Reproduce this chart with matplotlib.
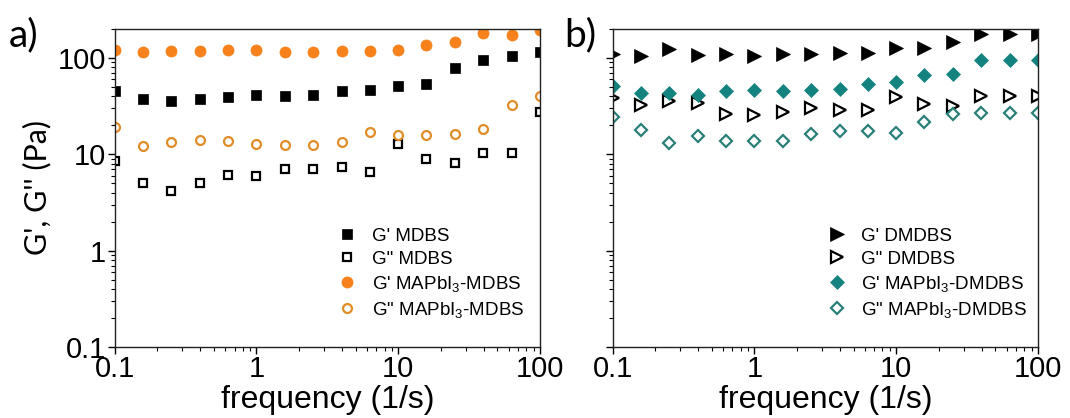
import matplotlib
matplotlib.use("Agg")
import matplotlib.pyplot as plt
from matplotlib.ticker import LogLocator, NullFormatter, FixedLocator, FixedFormatter

plt.rcParams['font.family'] = ['Liberation Sans', 'DejaVu Sans']
plt.rcParams['mathtext.fontset'] = 'custom'
plt.rcParams['mathtext.rm'] = 'Liberation Sans'
plt.rcParams['mathtext.default'] = 'regular'

# angular frequency sweep (1/s)
freq = [0.1, 0.158, 0.251, 0.398, 0.631, 1.0, 1.58, 2.51, 3.98, 6.31,
        10.0, 15.8, 25.1, 39.8, 63.1, 100.0]

# a) MDBS gels (Pa)
g1_mdbs = [45.9, 37.5, 35.5, 37.9, 39.4, 41.0, 40.7, 41.7, 45.9, 47.0,
           50.8, 53.7, 79.1, 94.2, 104, 115]
g2_mdbs = [8.56, 5.0, 4.14, 5.08, 6.05, 5.91, 7.10, 7.03, 7.38, 6.55,
           12.8, 9.02, 8.12, 10.2, 10.2, 27.5]
g1_mapbi_mdbs = [120, 116, 118, 118, 120, 120, 116, 115, 118, 118,
                 120, 136, 145, 180, 175, 193]
g2_mapbi_mdbs = [19.1, 12.3, 13.3, 14.2, 13.6, 12.9, 12.4, 12.6, 13.3, 16.9,
                 16.0, 16.0, 16.3, 18.3, 32.8, 40.0]

# b) DMDBS gels (Pa)
g1_dmdbs = [111, 106, 125, 108, 111, 104, 111, 111, 113, 113,
            127, 127, 147, 178, 178, 178]
g2_dmdbs = [38.4, 32.3, 36.1, 34.1, 26.2, 25.4, 27.3, 30.3, 28.6, 28.5,
            39.1, 33.3, 31.5, 40.0, 40.0, 40.0]
g1_mapbi_dmdbs = [50.8, 43.3, 43.3, 41.0, 45.1, 47.0, 45.9, 47.0, 48.1, 53.7,
                  55.9, 67.2, 68.9, 96.2, 96.2, 96.2]
g2_mapbi_dmdbs = [24.2, 18.0, 13.1, 15.4, 13.6, 13.6, 13.6, 16.3, 17.3, 17.6,
                  16.6, 21.6, 26.2, 26.9, 26.9, 26.9]

xticks = [0.1, 1, 10, 100]
xticklabels = ['0.1', '1', '10', '100']
yticks = [0.1, 1, 10, 100]
yticklabels = ['0.1', '1', '10', '100']

ORANGE = '#F7821B'
ORANGE_EDGE = '#E08C28'
TEAL = '#148380'
TEAL_EDGE = '#2A8078'

fig = plt.figure(figsize=(10.7, 4.18), dpi=100)
ax_a = fig.add_axes([0.1072, 0.1699, 0.3975, 0.7608])
ax_b = fig.add_axes([0.5726, 0.1699, 0.3975, 0.7608])

ax_a.plot(freq, g1_mdbs, ls='none', marker='s', ms=7.6, mfc='black', mec='black',
          mew=0.5, label="G' MDBS")
ax_a.plot(freq, g2_mdbs, ls='none', marker='s', ms=6.0, mfc='white', mec='black',
          mew=1.6, label='G" MDBS')
ax_a.plot(freq, g1_mapbi_mdbs, ls='none', marker='o', ms=8.0, mfc=ORANGE, mec=ORANGE,
          mew=0.5, label="G' MAPbI$_3$-MDBS")
ax_a.plot(freq, g2_mapbi_mdbs, ls='none', marker='o', ms=6.4, mfc='white', mec=ORANGE_EDGE,
          mew=1.6, label='G" MAPbI$_3$-MDBS')

ax_b.plot(freq, g1_dmdbs, ls='none', marker='>', ms=9.6, mfc='black', mec='black',
          mew=0.5, label="G' DMDBS")
ax_b.plot(freq, g2_dmdbs, ls='none', marker='>', ms=8.4, mfc='white', mec='black',
          mew=1.6, label='G" DMDBS')
ax_b.plot(freq, g1_mapbi_dmdbs, ls='none', marker='D', ms=7.2, mfc=TEAL, mec=TEAL,
          mew=0.5, label="G' MAPbI$_3$-DMDBS")
ax_b.plot(freq, g2_mapbi_dmdbs, ls='none', marker='D', ms=6.2, mfc='white', mec=TEAL_EDGE,
          mew=1.6, label='G" MAPbI$_3$-DMDBS')

for ax in (ax_a, ax_b):
    ax.set_xscale('log')
    ax.set_yscale('log')
    ax.set_xlim(0.1, 100)
    ax.set_ylim(0.1, 200)
    ax.xaxis.set_major_locator(FixedLocator(xticks))
    ax.xaxis.set_major_formatter(FixedFormatter(xticklabels))
    ax.yaxis.set_major_locator(FixedLocator(yticks))
    ax.xaxis.set_minor_locator(LogLocator(base=10, subs=range(2, 10)))
    ax.yaxis.set_minor_locator(LogLocator(base=10, subs=range(2, 10)))
    ax.xaxis.set_minor_formatter(NullFormatter())
    ax.yaxis.set_minor_formatter(NullFormatter())
    ax.tick_params(which='major', direction='out', length=5, width=1.0,
                   labelsize=21, top=False, right=False, pad=1)
    ax.tick_params(which='minor', direction='out', length=3, width=0.8,
                   top=False, right=False)
    for sp in ax.spines.values():
        sp.set_linewidth(1.0)
        sp.set_color('#222222')
    ax.set_xlabel('frequency (1/s)', fontsize=23, labelpad=1)

ax_a.yaxis.set_major_formatter(FixedFormatter(yticklabels))
ax_b.yaxis.set_major_formatter(NullFormatter())

ax_a.set_ylabel("G', G'' (Pa)", fontsize=22, family=['Lato', 'DejaVu Sans'], labelpad=5)

leg_kw = dict(frameon=False, fontsize=13.5, handlelength=1.0, handletextpad=0.8,
              labelspacing=0.32, borderpad=0, borderaxespad=0, numpoints=1)
ax_a.legend(loc='upper left', bbox_to_anchor=(0.525, 0.375), **leg_kw)
ax_b.legend(loc='upper left', bbox_to_anchor=(0.505, 0.375), **leg_kw)

fig.text(0.008, 0.915, 'a)', fontsize=28, family=['Lato', 'DejaVu Sans'], va='center')
fig.text(0.527, 0.915, 'b)', fontsize=28, family=['Lato', 'DejaVu Sans'], va='center')

fig.savefig('out.png', dpi=100)
